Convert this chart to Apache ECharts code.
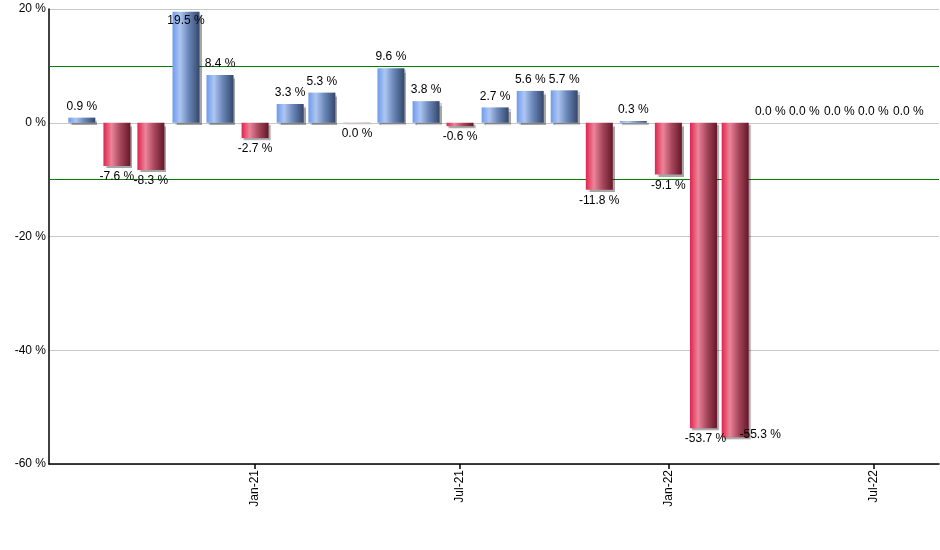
<!DOCTYPE html>
<html>
<head>
<meta charset="utf-8">
<script src="https://cdn.jsdelivr.net/npm/echarts@6/dist/echarts.min.js"></script>
<style>html,body{margin:0;padding:0;background:#fff}#c{width:940px;height:550px}</style>
</head>
<body>
<div id="c"></div>
<script>
var months = ['2020-08-01','2020-09-01','2020-10-01','2020-11-01','2020-12-01','2021-01-01','2021-02-01','2021-03-01','2021-04-01','2021-05-01','2021-06-01','2021-07-01','2021-08-01','2021-09-01','2021-10-01','2021-11-01','2021-12-01','2022-01-01','2022-02-01','2022-03-01','2022-04-01','2022-05-01','2022-06-01','2022-07-01','2022-08-01'];
var values = [0.9,-7.6,-8.3,19.5,8.4,-2.7,3.3,5.3,-0.04,9.6,3.8,-0.6,2.7,5.6,5.7,-11.8,0.3,-9.1,-53.7,-55.3,0,0,0,0,0];
var tickDates = ['2021-01-01','2021-07-01','2022-01-01','2022-07-01'];
var bandLines = [10,-10];
var monthNames = ['Jan','Feb','Mar','Apr','May','Jun','Jul','Aug','Sep','Oct','Nov','Dec'];

var DAY = 86400000;
function ts(s){var p=s.split('-');return Date.UTC(+p[0],+p[1]-1,+p[2])/DAY;}

var blueGrad = new echarts.graphic.LinearGradient(0,0,1,0,[
  {offset:0,color:'#6e9bec'},{offset:0.28,color:'#adc6f2'},{offset:0.6,color:'#6a86b8'},{offset:1,color:'#34476b'}]);
var redGrad = new echarts.graphic.LinearGradient(0,0,1,0,[
  {offset:0,color:'#de2450'},{offset:0.3,color:'#ec8598'},{offset:0.62,color:'#a8485e'},{offset:1,color:'#661628'}]);

function fmt(v){return (Math.abs(v)<0.05?'0.0':v.toFixed(1))+' %';}

var barData = values.map(function(v,i){
  var neg = v<0;
  var item = {
    value:[ts(months[i]), v],
    itemStyle:{color: neg?redGrad:blueGrad},
    label:{position: neg?'bottom':'top'}
  };
  if (v>17) item.label = {position:'insideTop', distance:3};
  if (i===19) item.label = {position:'bottom', offset:[25,-14]};
  if (i===18) item.label = {position:'bottom', offset:[2,0]};
  return item;
});

var chart = echarts.init(document.getElementById('c'));
chart.setOption({
  animation:false,
  backgroundColor:'#fff',
  textStyle:{fontFamily:'Liberation Sans, Arial, sans-serif'},
  grid:{left:49,right:1,top:9,bottom:86,containLabel:false},
  xAxis:{
    type:'value',
    min:ts('2020-07-03'),
    max:ts('2022-08-28'),
    axisLine:{show:true,onZero:false,lineStyle:{color:'#000',width:1.5}},
    axisTick:{show:true,length:5,lineStyle:{color:'#000',width:1.5},customValues:tickDates.map(ts)},
    axisLabel:{
      customValues:tickDates.map(ts),
      rotate:90,color:'#000',fontSize:12,margin:6,
      formatter:function(val){var d=new Date(val*DAY);return monthNames[d.getUTCMonth()]+'-'+String(d.getUTCFullYear()).slice(2);}
    },
    splitLine:{show:false}
  },
  yAxis:{
    type:'value',min:-60,max:20,interval:20,
    axisLine:{show:true,lineStyle:{color:'#000',width:1.5}},
    axisTick:{show:false},
    axisLabel:{color:'#000',fontSize:12,margin:3,formatter:function(v){return v+' %';}},
    splitLine:{show:true,lineStyle:{color:'#c8c8c8',width:1}}
  },
  series:[
    {
      type:'line',data:[],z:1,silent:true,
      markLine:{
        z:1,
        silent:true,symbol:'none',
        label:{show:false},
        lineStyle:{color:'#008000',type:'solid',width:1},
        data:bandLines.map(function(b){return {yAxis:b};})
      }
    },
    {
      type:'bar',z:3,zlevel:1,
      barWidth:27,
      data:barData,
      itemStyle:{shadowColor:'rgba(0,0,0,0.35)',shadowOffsetX:2,shadowOffsetY:2,shadowBlur:1},
      label:{show:true,color:'#000',fontSize:12,distance:5,
        formatter:function(p){return fmt(p.value[1]);}}
    }
  ]
});
</script>
</body>
</html>
